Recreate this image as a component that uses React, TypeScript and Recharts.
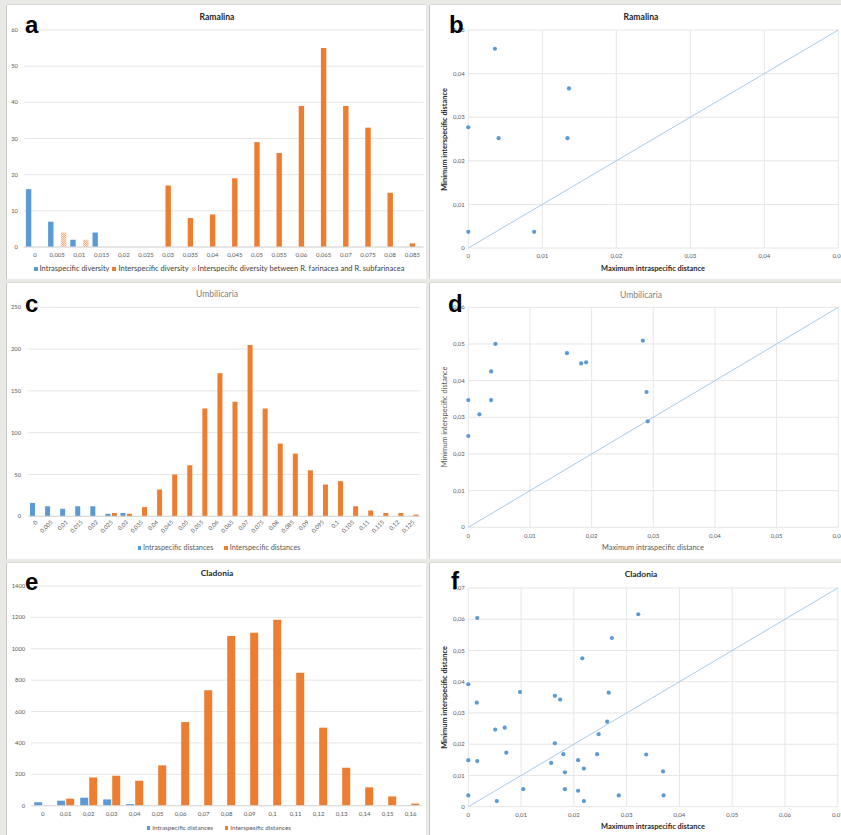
import React from 'react';
import { BarChart, Bar, XAxis, YAxis, CartesianGrid, ScatterChart, Scatter } from 'recharts';

const FONT = "Lato, 'Open Sans', sans-serif";
const BLUE = '#5B9BD5';
const ORANGE = '#ED7D31';
const GRID = '#E6E6E6';
const TICK = '#595959';
const DIAG = '#A9CBEA';

// ---------- Ramalina histogram (a) ----------
const ramalinaBins = ['0', '0,005', '0,01', '0,015', '0,02', '0,025', '0,03', '0,035', '0,04', '0,045', '0,05', '0,055', '0,06', '0,065', '0,07', '0,075', '0,08', '0,085'];
const ramalinaIntra = [16, 7, 2, 4, 0, 0, 0, 0, 0, 0, 0, 0, 0, 0, 0, 0, 0, 0];
const ramalinaInter = [0, 0, 0, 0, 0, 0, 17, 8, 9, 19, 29, 26, 39, 55, 39, 33, 15, 1];
const ramalinaFarSub = [0, 4, 2, 0, 0, 0, 0, 0, 0, 0, 0, 0, 0, 0, 0, 0, 0, 0];
const ramalinaYTicks = [0, 10, 20, 30, 40, 50, 60];

// ---------- Umbilicaria histogram (c) ----------
const umbBins = ['0', '0,005', '0,01', '0,015', '0,02', '0,025', '0,03', '0,035', '0,04', '0,045', '0,05', '0,055', '0,06', '0,065', '0,07', '0,075', '0,08', '0,085', '0,09', '0,095', '0,1', '0,105', '0,11', '0,115', '0,12', '0,125'];
const umbIntra = [16, 12, 9, 12, 12, 3, 4, 0, 0, 0, 0, 0, 0, 0, 0, 0, 0, 0, 0, 0, 0, 0, 0, 0, 0, 0];
const umbInter = [0, 0, 0, 0, 0, 4, 3, 11, 32, 50, 61, 129, 171, 137, 205, 129, 87, 75, 55, 38, 42, 12, 7, 4, 4, 2];
const umbYTicks = [0, 50, 100, 150, 200, 250];

// ---------- Cladonia histogram (e) ----------
const cladBins = ['0', '0,01', '0,02', '0,03', '0,04', '0,05', '0,06', '0,07', '0,08', '0,09', '0,1', '0,11', '0,12', '0,13', '0,14', '0,15', '0,16'];
const cladIntra = [22, 32, 51, 40, 10, 0, 0, 0, 0, 0, 0, 0, 0, 0, 0, 0, 0];
const cladInter = [0, 45, 180, 191, 159, 257, 533, 735, 1081, 1102, 1185, 847, 497, 242, 117, 59, 13];
const cladYTicks = [0, 200, 400, 600, 800, 1000, 1200, 1400];

// ---------- Scatter data ----------
const ramMaxIntra = [0, 0.0036, 0.0041, 0.0134, 0.0136, 0, 0.0089];
const ramMinInter = [0.0277, 0.0457, 0.0252, 0.0252, 0.0366, 0.0037, 0.0037];
const ramTicks = [0, 0.01, 0.02, 0.03, 0.04, 0.05];

const umbMaxIntra = [0.0044, 0.0037, 0.0037, 0, 0.0018, 0, 0.016, 0.0183, 0.0191, 0.0283, 0.0289, 0.0291];
const umbMinInter = [0.05, 0.0425, 0.0347, 0.0347, 0.0308, 0.0249, 0.0475, 0.0447, 0.045, 0.0509, 0.0369, 0.0289];
const umbTicks = [0, 0.01, 0.02, 0.03, 0.04, 0.05, 0.06];

const cladMaxIntra = [0.0017, 0.0322, 0.0272, 0.0216, 0, 0.0098, 0.0164, 0.0174, 0.0266, 0.0016, 0.0263, 0.0069, 0.0051, 0.0247, 0.0164, 0.0072, 0.018, 0.0244, 0.0337, 0, 0.0017, 0.0157, 0.0208, 0.0219, 0.0183, 0.0369, 0.0104, 0.0183, 0.0208, 0, 0.0285, 0.037, 0.0054, 0.0219];
const cladMinInter = [0.0604, 0.0616, 0.054, 0.0475, 0.0392, 0.0367, 0.0355, 0.0343, 0.0365, 0.0333, 0.0272, 0.0253, 0.0247, 0.0232, 0.0203, 0.0173, 0.0168, 0.0168, 0.0167, 0.0149, 0.0146, 0.014, 0.0149, 0.0122, 0.011, 0.0113, 0.0056, 0.0056, 0.0051, 0.0036, 0.0036, 0.0036, 0.0018, 0.0018];
const cladTicks = [0, 0.01, 0.02, 0.03, 0.04, 0.05, 0.06, 0.07];

const ramDiag = [0, 0.05];
const umbDiag = [0, 0.06];
const cladDiag = [0, 0.07];

const zip = (xs: number[], ys: number[]) => xs.map((x, i) => ({ x, y: ys[i] }));
const diagPts = (d: number[]) => d.map((v) => ({ x: v, y: v }));

const ramalinaData = ramalinaBins.map((bin, i) => ({ bin, intra: ramalinaIntra[i], inter: ramalinaInter[i], farsub: ramalinaFarSub[i] }));
const umbData = umbBins.map((bin, i) => ({ bin, intra: umbIntra[i], inter: umbInter[i] }));
const cladData = cladBins.map((bin, i) => ({ bin, intra: cladIntra[i], inter: cladInter[i] }));

const fmt = (v: number) => String(v).replace('.', ',');
const tickStyle = (fs: number) => ({ fontSize: fs, fill: TICK, fontFamily: FONT });

const Dot = (props: any) => <circle cx={props.cx} cy={props.cy} r={2.1} fill={BLUE} />;
const NoDot = () => <g />;

const RotTick = (props: any) => {
  const { x, y, payload } = props;
  return (
    <text x={x + 1} y={y + 2} transform={`rotate(-45 ${x + 1} ${y + 2})`} textAnchor="end" dy="0.35em" fontSize={5.8} fill={TICK} fontFamily={FONT}>
      {payload.value}
    </text>
  );
};

const Panel = ({ x, y, w, h, children }: any) => (
  <div style={{ position: 'absolute', left: x, top: y, width: w, height: h, background: '#fff', boxShadow: '-1px 0 0 #c9c9c4, 0 -1px 0 #dcdcd8' }}>{children}</div>
);

const Legend = ({ cx, cy, items, fontSize, color, box, gap }: any) => (
  <div style={{ position: 'absolute', left: cx - 300, width: 600, top: cy - fontSize, height: fontSize * 2, display: 'flex', justifyContent: 'center', alignItems: 'center', gap, fontFamily: FONT, fontSize, color, whiteSpace: 'nowrap', lineHeight: 1 }}>
    {items.map((it: any) => (
      <span key={it.label} style={{ display: 'flex', alignItems: 'center' }}>
        <span style={{ width: box, height: box, background: it.fill, marginRight: 2, display: 'inline-block' }} />
        {it.label}
      </span>
    ))}
  </div>
);

const HATCH_CSS = 'repeating-conic-gradient(#F4B183 0 25%, #FCE4D6 0 50%) 0 0 / 2px 2px';

const ScatterPanel = ({ w, h, margin, pts, diag, ticks, max }: any) => (
  <ScatterChart width={w} height={h} margin={margin}>
    <CartesianGrid stroke={GRID} />
    <XAxis type="number" dataKey="x" domain={[0, max]} ticks={ticks} tickFormatter={fmt} height={margin.xh} axisLine={false} tickLine={false} tickSize={0} tickMargin={6} tick={tickStyle(6)} interval={0} />
    <YAxis type="number" dataKey="y" domain={[0, max]} ticks={ticks} tickFormatter={fmt} width={30} axisLine={false} tickLine={false} tickSize={0} tickMargin={3.5} tick={tickStyle(6)} interval={0} />
    <Scatter data={diagPts(diag)} line={{ stroke: DIAG, strokeWidth: 1 }} shape={NoDot} isAnimationActive={false} />
    <Scatter data={pts} shape={Dot} isAnimationActive={false} />
  </ScatterChart>
);

export default function App() {
  return (
    <div style={{ position: 'absolute', left: 0, top: 0, width: 841, height: 835, background: '#e9e9e5', overflow: 'hidden', fontFamily: FONT }}>
      {/* a */}
      <Panel x={7} y={5} w={419} h={274}>
        <BarChart width={419} height={274} data={ramalinaData} margin={{ top: 25, right: 2.5, left: 4.9, bottom: 0 }} barSize={5.4} barGap={1}>
          <defs>
            <pattern id="hatchA" width="2" height="2" patternUnits="userSpaceOnUse">
              <rect width="2" height="2" fill="#FCE4D6" />
              <rect width="1" height="1" fill="#F4B183" />
              <rect x="1" y="1" width="1" height="1" fill="#F4B183" />
            </pattern>
          </defs>
          <CartesianGrid vertical={false} stroke={GRID} />
          <XAxis dataKey="bin" interval={0} height={32} tickLine={false} tickSize={0} tickMargin={6} axisLine={{ stroke: '#D9D9D9' }} tick={tickStyle(6)} />
          <YAxis domain={[0, 60]} ticks={ramalinaYTicks} width={12} axisLine={false} tickLine={false} tickSize={0} tickMargin={6} tick={tickStyle(5.8)} />
          <Bar dataKey="intra" fill={BLUE} isAnimationActive={false} />
          <Bar dataKey="inter" fill={ORANGE} isAnimationActive={false} />
          <Bar dataKey="farsub" fill="url(#hatchA)" isAnimationActive={false} />
        </BarChart>
      </Panel>
      {/* b */}
      <Panel x={430} y={5} w={411} h={274}>
        <ScatterPanel w={411} h={274} margin={{ top: 25, right: 2.7, left: 8.3, bottom: 0, xh: 31 }} pts={zip(ramMaxIntra, ramMinInter)} diag={ramDiag} ticks={ramTicks} max={0.05} />
      </Panel>
      {/* c */}
      <Panel x={7} y={283} w={419} h={276}>
        <BarChart width={419} height={276} data={umbData} margin={{ top: 24.3, right: 6, left: 7, bottom: 0 }} barSize={5} barGap={1.5}>
          <CartesianGrid vertical={false} stroke={GRID} />
          <XAxis dataKey="bin" interval={0} height={42.7} tickLine={false} tickSize={0} tickMargin={3} axisLine={{ stroke: '#D9D9D9' }} tick={<RotTick />} />
          <YAxis domain={[0, 250]} ticks={umbYTicks} width={14} axisLine={false} tickLine={false} tickSize={0} tickMargin={7} tick={tickStyle(5.8)} />
          <Bar dataKey="intra" fill={BLUE} isAnimationActive={false} />
          <Bar dataKey="inter" fill={ORANGE} isAnimationActive={false} />
        </BarChart>
      </Panel>
      {/* d */}
      <Panel x={430} y={283} w={411} h={276}>
        <ScatterPanel w={411} h={276} margin={{ top: 24.3, right: 2.7, left: 8.3, bottom: 0, xh: 31.7 }} pts={zip(umbMaxIntra, umbMinInter)} diag={umbDiag} ticks={umbTicks} max={0.06} />
      </Panel>
      {/* e */}
      <Panel x={7} y={563} w={419} h={272}>
        <BarChart width={419} height={272} data={cladData} margin={{ top: 23, right: 3.8, left: 6.2, bottom: 0 }} barSize={8} barGap={1}>
          <CartesianGrid vertical={false} stroke={GRID} />
          <XAxis dataKey="bin" interval={0} height={29.3} tickLine={false} tickSize={0} tickMargin={6} axisLine={{ stroke: '#D9D9D9' }} tick={tickStyle(6)} />
          <YAxis domain={[0, 1400]} ticks={cladYTicks} width={18} axisLine={false} tickLine={false} tickSize={0} tickMargin={6} tick={tickStyle(5.8)} />
          <Bar dataKey="intra" fill={BLUE} isAnimationActive={false} />
          <Bar dataKey="inter" fill={ORANGE} isAnimationActive={false} />
        </BarChart>
      </Panel>
      {/* f */}
      <Panel x={430} y={563} w={411} h={272}>
        <ScatterPanel w={411} h={272} margin={{ top: 25, right: 3.2, left: 8.3, bottom: 0, xh: 28.3 }} pts={zip(cladMaxIntra, cladMinInter)} diag={cladDiag} ticks={cladTicks} max={0.07} />
      </Panel>

      {/* Legends */}
      <Legend cx={219} cy={269} fontSize={7.5} color="#404040" box={4} gap={3}
        items={[{ label: 'Intraspecific diversity', fill: BLUE }, { label: 'Interspecific diversity', fill: ORANGE }, { label: 'Interspecific diversity between R. farinacea and R. subfarinacea', fill: HATCH_CSS }]} />
      <Legend cx={219} cy={548} fontSize={7.3} color={TICK} box={3.4} gap={11}
        items={[{ label: 'Intraspecific distances', fill: BLUE }, { label: 'Interspecific distances', fill: ORANGE }]} />
      <Legend cx={219} cy={828} fontSize={6.3} color={TICK} box={3.2} gap={12}
        items={[{ label: 'Intraspecific distances', fill: BLUE }, { label: 'Interspesific distances', fill: ORANGE }]} />

      {/* Overlay texts */}
      <svg width={841} height={835} style={{ position: 'absolute', left: 0, top: 0, pointerEvents: 'none' }}>
        <g fontFamily={FONT} textAnchor="middle">
          <text x={217} y={20} fontSize={8.6} fontWeight="bold" fill="#262626">Ramalina</text>
          <text x={641} y={20} fontSize={8.6} fontWeight="bold" fill="#262626">Ramalina</text>
          <text x={217} y={297} fontSize={8.6} fill="#7F7F7F">Umbilicaria</text>
          <text x={641} y={297.5} fontSize={8.6} fill="#7F7F7F">Umbilicaria</text>
          <text x={217} y={576} fontSize={8.4} fontWeight="bold" fill="#262626">Cladonia</text>
          <text x={641} y={577} fontSize={8.4} fontWeight="bold" fill="#262626">Cladonia</text>

          <text x={653} y={270.5} fontSize={7.4} fontWeight="bold" fill="#262626">Maximum intraspecific distance</text>
          <text x={653} y={549.5} fontSize={7.4} fill={TICK}>Maximum intraspecific distance</text>
          <text x={653} y={829} fontSize={7.4} fontWeight="bold" fill="#262626">Maximum intraspecific distance</text>

          <text x={0} y={0} transform="translate(446.5 139.5) rotate(-90)" fontSize={7.4} fontWeight="bold" fill="#262626">Minimum interspecific distance</text>
          <text x={0} y={0} transform="translate(446.5 417) rotate(-90)" fontSize={7.4} fill={TICK}>Minimum interspecific distance</text>
          <text x={0} y={0} transform="translate(446.5 697.5) rotate(-90)" fontSize={7.4} fontWeight="bold" fill="#262626">Minimum interspecific distance</text>
        </g>
        <g fontFamily="'Liberation Sans', Arial, sans-serif" fontWeight="bold" fontSize={24} fill="#000">
          <text x={25} y={33}>a</text>
          <text x={449} y={33}>b</text>
          <text x={25} y={312}>c</text>
          <text x={448} y={312}>d</text>
          <text x={25} y={590}>e</text>
          <text x={451} y={589}>f</text>
        </g>
      </svg>
    </div>
  );
}
